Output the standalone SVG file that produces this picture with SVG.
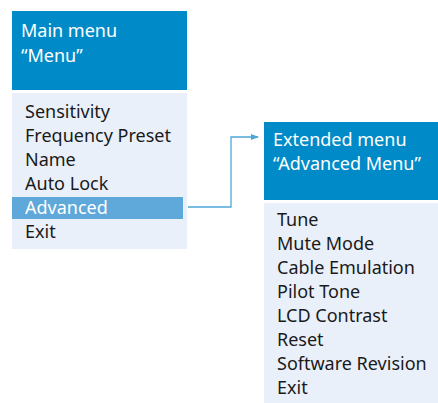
<svg xmlns="http://www.w3.org/2000/svg" width="438" height="403" viewBox="0 0 438 403">
<style>
.hdr{fill:#008bc8}
.body{fill:#e9f0fa}
.hl{fill:#5fa8da}
.ht{font-family:"Noto Sans",sans-serif;font-size:18px;fill:#ffffff}
.it{font-family:"Noto Sans",sans-serif;font-size:18px;fill:#1a1a1a}
.itw{font-family:"Noto Sans",sans-serif;font-size:18px;fill:#ffffff}
.conn{fill:none;stroke:#4fa6d8;stroke-width:1.3}
</style>
<defs>
<marker id="arr" markerWidth="8" markerHeight="6" refX="7" refY="3" orient="auto" markerUnits="userSpaceOnUse">
<path d="M0,0 L8,3 L0,6 Z" fill="#4fa6d8"/>
</marker>
</defs>
<g id="main-menu">
<rect class="hdr" x="12" y="11" width="175" height="79"/>
<text class="ht" x="21" y="37">Main menu</text>
<text class="ht" x="21" y="62">“Menu”</text>
<rect class="body" x="12" y="93" width="175" height="156"/>
<rect class="hl" x="12" y="197" width="171" height="22"/>
<text class="it" x="25" y="118">Sensitivity</text>
<text class="it" x="25" y="142">Frequency Preset</text>
<text class="it" x="25" y="166">Name</text>
<text class="it" x="25" y="190">Auto Lock</text>
<text class="itw" x="25" y="214">Advanced</text>
<text class="it" x="25" y="238">Exit</text>
</g>
<g id="extended-menu">
<rect class="hdr" x="264" y="122" width="174" height="78"/>
<text class="ht" x="273" y="146">Extended menu</text>
<text class="ht" x="273" y="170">“Advanced Menu”</text>
<rect class="body" x="264" y="203" width="174" height="200"/>
<text class="it" x="277" y="226">Tune</text>
<text class="it" x="277" y="250">Mute Mode</text>
<text class="it" x="277" y="274">Cable Emulation</text>
<text class="it" x="277" y="298">Pilot Tone</text>
<text class="it" x="277" y="322">LCD Contrast</text>
<text class="it" x="277" y="346">Reset</text>
<text class="it" x="277" y="370">Software Revision</text>
<text class="it" x="277" y="394">Exit</text>
</g>
<g id="connectors">
<path class="conn" d="M188,207 H231 V137 H258" marker-end="url(#arr)"/>
</g>
</svg>
